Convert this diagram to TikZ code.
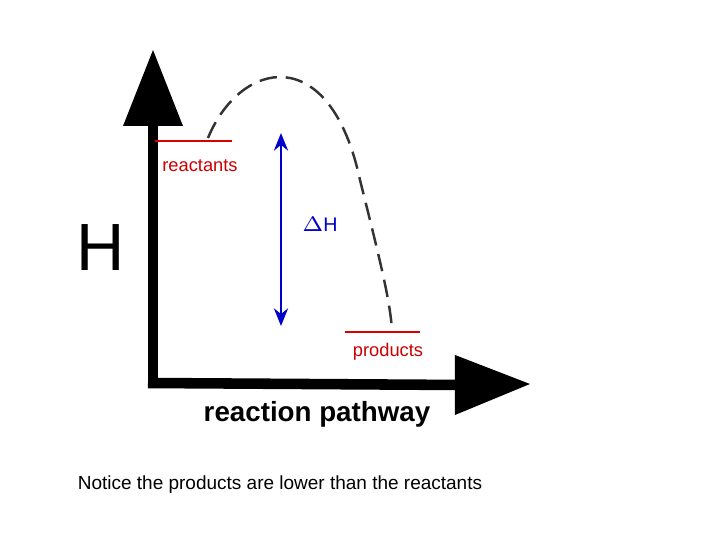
\documentclass[tikz,border=0pt]{standalone}
\usepackage{fontspec}
\setmainfont{Liberation Sans}
\usetikzlibrary{arrows.meta}
\begin{document}
\begin{tikzpicture}[x=0.01cm,y=-0.01cm,
  axis/.style={line width=3pt,black},
  level/.style={red!85!black,line width=0.5pt},
  lbl/.style={red!80!black,font=\fontsize{5.2pt}{6pt}\selectfont},
  curve/.style={dash pattern=on 5pt off 2.5pt,line width=0.7pt,black!80}]
\useasboundingbox (0,0) rectangle (720,540);
% axes
\coordinate (o) at (153,385);
\coordinate (ytop) at (153,120);
\coordinate (xend) at (460,385);
\draw[axis] (153,387) -- (ytop);
\draw[axis] (148,383) -- (xend);
\fill (123,126) -- (153,50) -- (183,126) -- cycle;
\fill (455,355) -- (530,384) -- (455,415) -- cycle;
% levels
\coordinate (r1) at (155,141); \coordinate (r2) at (232,141);
\coordinate (p1) at (345,332); \coordinate (p2) at (420,332);
\draw[level] (r1) -- (r2);
\draw[level] (p1) -- (p2);
\node[lbl] (react) at (200,166) {reactants};
\node[lbl] (prod) at (388,352) {products};
% curve
\coordinate (cs) at (208,138);
\coordinate (ce) at (392,330);
\draw[curve] (cs) .. controls (240,60) and (330,40) .. (360,180) .. controls (380,260) and (390,300) .. (ce);
% delta H
\coordinate (a1) at (281,133); \coordinate (a2) at (281,326);
\draw[blue!80!black,line width=0.8pt,{Stealth[length=5pt,width=4pt]}-{Stealth[length=5pt,width=4pt]}] (a1) -- (a2);
\node[blue!80!black,font=\fontsize{5.6pt}{6pt}\selectfont] (dh) at (320,224) {$\Delta$H};
\node[font=\fontsize{19pt}{20pt}\selectfont] (H) at (101,248) {H};
\node[font=\fontsize{8.3pt}{9pt}\selectfont\bfseries,scale=0.95] (rp) at (317,414) {reaction pathway};
\node[font=\fontsize{5.4pt}{6pt}\selectfont] (note) at (280,485) {Notice the products are lower than the reactants};
\end{tikzpicture}
\end{document}
